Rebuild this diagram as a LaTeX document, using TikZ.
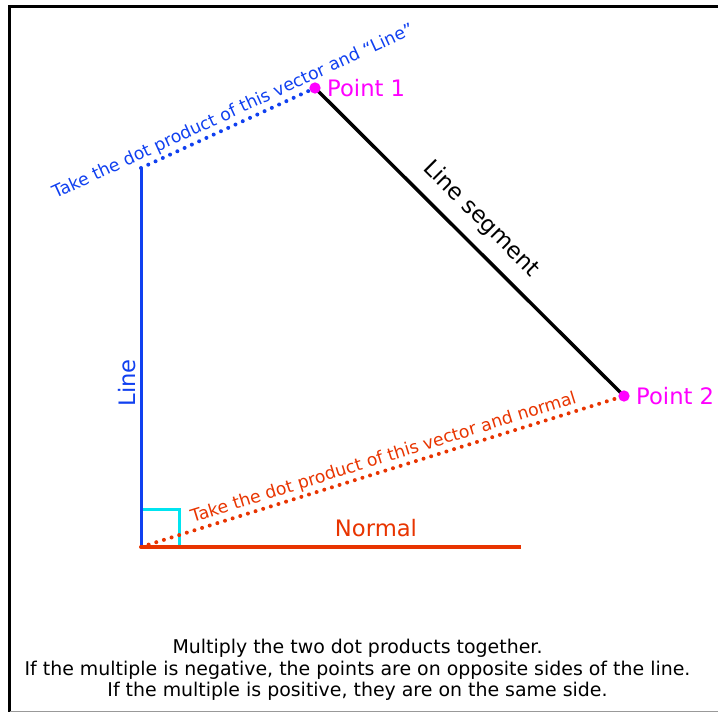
\documentclass[tikz,border=0pt]{standalone}
\usepackage{fontspec}
\setmainfont{DejaVu Sans}
\usetikzlibrary{positioning}

\definecolor{lineblue}{RGB}{16,64,240}
\definecolor{normred}{RGB}{232,52,0}
\definecolor{ptpink}{RGB}{255,0,255}
\definecolor{markcyan}{RGB}{0,228,240}

\begin{document}
\begin{tikzpicture}[
  x=0.75pt, y=-0.75pt,
  pt/.style={circle, fill=ptpink, inner sep=0pt, minimum size=8.5pt},
  ptlabel/.style={text=ptpink, font=\fontsize{17}{20}\selectfont, inner sep=2pt},
  biglabel/.style={font=\fontsize{17}{20}\selectfont},
  slopelabel/.style={font=\fontsize{13}{15}\selectfont, sloped, above, inner sep=1.5pt},
  vec/.style={line width=2.25pt},
  dotvec/.style={line width=3pt, line cap=round, dash pattern=on 0pt off 6pt}
]
  \useasboundingbox (0,0) rectangle (718,712);

  % frame of the screenshot
  \draw[line width=2.25pt] (718,6.5) -- (9.5,6.5) -- (9.5,712);
  \draw[black!40, line width=0.75pt] (10,711) -- (718,711);

  \coordinate (orig) at (141,547);
  \coordinate (ltop) at (141,168);
  \coordinate (nend) at (521,547);
  \coordinate (p1) at (315,88);
  \coordinate (p2) at (624,396);

  \draw[markcyan, line width=2.25pt] (orig) ++(0,-37) -| ++(38,37);
  \draw[vec, lineblue] (orig) -- (ltop);
  \draw[vec, normred, line width=3pt] (orig) -- (nend);
  \draw[vec, line width=2.6pt] (p1) -- (p2);

  \draw[dotvec, lineblue] (ltop) -- node[slopelabel, pos=0.56, text=lineblue] (dotline) {Take the dot product of this vector and “Line”} (p1);
  \draw[dotvec, normred] (orig) -- node[slopelabel, pos=0.51, text=normred] (dotnorm) {Take the dot product of this vector and normal} (p2);

  \node[pt] (p1dot) at (p1) {};
  \node[pt] (p2dot) at (p2) {};

  \node[ptlabel, right=2.5pt of p1dot] (p1lab) {Point 1};
  \node[ptlabel, right=2.5pt of p2dot] (p2lab) {Point 2};
  \node[biglabel, text=lineblue, rotate=90] (linelab) at (127,383) {Line};
  \node[biglabel, text=normred] (normlab) at (376,528) {Normal};
  \node[biglabel, rotate=-45] (seglab) at (481,219) {Line segment};

  \node[align=center, font=\fontsize{14.2}{16.1}\selectfont] (note) at (357.5,670) {Multiply the two dot products together.\\
    If the multiple is negative, the points are on opposite sides of the line.\\
    If the multiple is positive, they are on the same side.};
\end{tikzpicture}
\end{document}
